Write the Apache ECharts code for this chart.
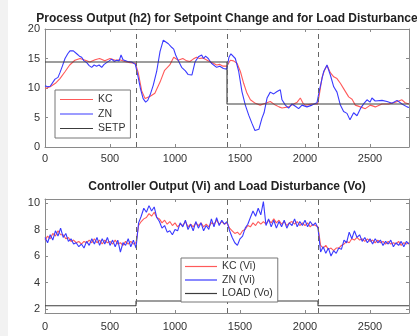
<!DOCTYPE html>
<html>
<head>
<meta charset="utf-8">
<script src="https://cdn.jsdelivr.net/npm/echarts@6/dist/echarts.min.js"></script>
<style>html,body{margin:0;padding:0;background:#fff}#c{width:417px;height:336px}</style>
</head>
<body>
<div id="c"></div>
<script>
// ---------- DATA ----------
const topTitle = 'Process Output (h2) for Setpoint Change and for Load Disturbance';
const bottomTitle = 'Controller Output (Vi) and Load Disturbance (Vo)';
const xTickValues = [0, 500, 1000, 1500, 2000, 2500];
const topYTicks = [0, 5, 10, 15, 20];
const bottomYTicks = [2, 4, 6, 8, 10];
const stepTimes = [700, 1400, 2100];

// Process output h2 (top), [time, value]
const kcH2 = [[0,9.9],[40,10.2],[80,10.8],[115,11.6],[155,12.8],[190,13.9],[230,14.7],[270,15.0],[310,14.7],[345,14.4],[385,14.8],[420,15.0],[460,14.6],[500,15.0],[540,14.7],[575,14.8],[615,14.5],[655,14.3],[695,14.2],[718,12.5],[744,9.5],[770,8.2],[785,7.9],[810,8.6],[845,9.1],[885,11.0],[920,13.0],[960,13.9],[990,15.2],[1025,14.7],[1060,15.0],[1090,14.6],[1115,14.5],[1140,14.9],[1165,15.2],[1190,15.0],[1215,15.1],[1240,14.8],[1265,14.5],[1295,14.2],[1320,13.9],[1345,14.0],[1370,13.7],[1398,13.7],[1426,14.7],[1450,14.6],[1477,14.2],[1503,12.8],[1528,10.8],[1554,9.1],[1580,8.0],[1618,7.4],[1655,7.1],[1695,7.4],[1733,7.7],[1772,7.1],[1800,6.8],[1823,6.6],[1874,6.8],[1913,7.3],[1940,7.6],[1964,8.3],[1985,7.4],[2003,7.1],[2054,7.3],[2098,7.3],[2115,9.5],[2131,11.8],[2150,13.0],[2170,13.8],[2195,12.6],[2221,11.9],[2246,11.6],[2272,10.8],[2297,9.9],[2336,8.5],[2362,8.1],[2387,7.1],[2426,6.8],[2464,6.5],[2503,7.1],[2541,6.8],[2592,7.3],[2644,7.3],[2695,7.6],[2746,8.0],[2770,7.5],[2800,7.3]];
const znH2 = [[0,10.4],[20,10.2],[40,10.3],[77,11.5],[100,11.8],[115,12.6],[135,13.8],[154,15.0],[175,15.8],[192,16.3],[218,16.3],[244,15.8],[265,15.4],[282,15.2],[300,14.6],[321,14.3],[340,13.8],[359,13.5],[378,13.9],[397,13.7],[416,13.9],[436,13.5],[455,14.0],[474,14.3],[494,14.6],[513,14.9],[532,14.5],[551,14.7],[570,14.6],[585,15.6],[600,14.8],[615,14.9],[635,14.5],[667,14.4],[695,14.0],[715,12.0],[735,9.8],[755,8.2],[774,7.6],[790,7.9],[808,8.8],[833,10.5],[859,12.8],[885,16.2],[910,18.1],[925,18.3],[949,17.5],[974,16.9],[990,16.6],[1005,15.6],[1026,14.6],[1051,13.5],[1065,13.3],[1080,12.9],[1100,12.3],[1115,12.5],[1130,12.2],[1154,14.4],[1180,15.3],[1205,15.6],[1220,15.0],[1235,15.4],[1256,15.0],[1280,14.2],[1295,13.9],[1320,13.5],[1345,13.7],[1372,13.3],[1398,13.2],[1415,15.2],[1430,15.8],[1445,15.5],[1464,15.0],[1490,12.8],[1515,9.4],[1541,7.1],[1567,5.4],[1592,4.0],[1615,2.8],[1630,2.6],[1645,3.0],[1669,4.9],[1685,5.8],[1708,8.3],[1733,9.3],[1759,9.0],[1785,9.4],[1810,9.7],[1823,8.0],[1849,7.1],[1874,6.6],[1900,7.3],[1926,6.9],[1951,6.5],[1977,7.1],[2015,6.8],[2054,7.1],[2092,7.5],[2110,9.5],[2131,11.6],[2144,12.8],[2169,13.9],[2195,12.2],[2221,10.2],[2246,9.3],[2272,7.1],[2297,6.0],[2323,5.7],[2346,4.6],[2374,5.8],[2400,5.3],[2426,6.5],[2451,7.3],[2477,8.0],[2500,7.6],[2515,8.3],[2540,7.8],[2554,8.1],[2592,7.9],[2631,7.7],[2669,7.4],[2708,7.9],[2746,7.3],[2785,6.8],[2800,6.7]];
const setpTime = [0, 1400, 1400, 2800];
const setpValue = [14.4, 14.4, 7.3, 7.3];

// Controller output Vi (bottom), sampled every 20 time units
const ctrlTime = [0,20,40,60,80,100,120,140,160,180,200,220,240,260,280,300,320,340,360,380,400,420,440,460,480,500,520,540,560,580,600,620,640,660,680,700,720,740,760,780,800,820,840,860,880,900,920,940,960,980,1000,1020,1040,1060,1080,1100,1120,1140,1160,1180,1200,1220,1240,1260,1280,1300,1320,1340,1360,1380,1400,1420,1440,1460,1480,1500,1520,1540,1560,1580,1600,1620,1640,1660,1680,1700,1720,1740,1760,1780,1800,1820,1840,1860,1880,1900,1920,1940,1960,1980,2000,2020,2040,2060,2080,2100,2120,2140,2160,2180,2200,2220,2240,2260,2280,2300,2320,2340,2360,2380,2400,2420,2440,2460,2480,2500,2520,2540,2560,2580,2600,2620,2640,2660,2680,2700,2720,2740,2760,2780,2800];
const kcVi = [7.2,7.5,7.3,7.7,7.5,7.9,7.6,7.6,7.3,7.4,7.1,7.2,7.0,7.1,6.9,7.1,7.0,7.2,7.0,7.3,7.0,7.2,6.9,7.2,7.0,7.1,6.9,7.2,6.9,7.0,6.8,7.1,6.9,7.1,6.9,7.0,8.3,8.6,8.8,8.9,9.2,9.0,9.3,8.9,8.8,8.5,8.7,8.4,8.6,8.3,8.5,8.2,8.4,8.3,8.6,8.2,8.4,8.2,8.5,8.3,8.5,8.2,8.4,8.2,8.5,8.4,8.7,8.4,8.6,8.4,8.5,8.1,7.9,7.7,7.8,7.6,7.9,8.0,8.3,8.2,8.5,8.3,8.6,8.4,8.6,8.4,8.7,8.5,8.8,8.5,8.7,8.4,8.6,8.3,8.5,8.6,8.4,8.6,8.3,8.5,8.3,8.5,8.2,8.4,8.3,8.2,6.8,6.6,6.8,6.5,6.6,6.4,6.6,6.6,6.8,6.9,7.1,7.0,7.3,7.2,7.4,7.2,7.3,7.1,7.3,7.1,7.2,7.0,7.2,7.0,7.1,6.9,7.1,6.9,7.0,6.9,7.1,6.8,7.0,6.9,7.0];
const znVi = [7.4,7.0,7.6,7.2,7.9,7.5,8.1,7.4,7.7,7.1,7.3,6.9,7.0,6.7,6.9,6.6,7.1,6.8,7.3,6.9,7.4,6.8,7.3,6.9,7.4,6.8,7.2,6.7,7.2,6.3,7.0,6.8,7.3,6.7,7.2,6.6,8.5,9.0,9.6,9.3,9.8,9.4,9.7,8.9,8.6,8.1,8.3,7.8,7.9,7.6,8.0,7.9,8.5,8.2,8.7,8.0,8.4,7.9,8.6,8.1,8.5,7.9,8.3,8.0,8.8,8.2,8.9,8.3,8.7,8.4,8.6,7.9,7.4,7.0,6.8,7.3,7.5,8.1,8.4,8.9,9.4,9.0,9.6,9.1,10.1,8.3,8.8,8.2,8.7,8.1,8.6,8.2,8.7,8.1,8.5,8.3,8.8,8.2,8.6,8.3,8.7,8.2,8.6,8.3,8.5,8.1,6.3,6.7,6.2,6.6,6.0,6.4,6.2,6.6,6.5,7.2,7.0,7.8,7.3,7.9,7.4,7.6,7.1,7.4,7.0,7.3,6.9,7.3,7.0,7.2,6.8,7.1,6.9,7.2,6.7,7.0,6.8,7.1,6.7,7.1,6.9];
const loadTime = [0, 700, 700, 2100, 2100, 2800];
const loadValue = [2.25, 2.25, 2.6, 2.6, 2.25, 2.25];

// ---------- CHART ----------
const zip = (a, b) => a.map((v, i) => [v, b[i]]);
const FONT = 'Liberation Sans, Arial, Helvetica, sans-serif';
const AX = '#8a8a8a';
const RED = '#ff5a5a', BLUE = '#3a3aff', DARK = '#3c3c3c';
const plain = v => String(v);

function xAx(grid, pos, labels, margin) {
  return {
    type: 'value', gridIndex: grid, position: pos, min: 0, max: 2800,
    axisLine: { show: true, onZero: false, lineStyle: { color: AX, width: 1 } },
    axisTick: { show: true, inside: true, length: 3, customValues: xTickValues, lineStyle: { color: AX } },
    axisLabel: { show: labels, customValues: xTickValues, formatter: plain, color: '#333', fontSize: 11, fontFamily: FONT, margin: margin },
    splitLine: { show: false }
  };
}
function yAx(grid, pos, labels, min, max, ticks) {
  return {
    type: 'value', gridIndex: grid, position: pos, min: min, max: max,
    axisLine: { show: true, onZero: false, lineStyle: { color: AX, width: 1 } },
    axisTick: { show: true, inside: true, length: 3, customValues: ticks, lineStyle: { color: AX } },
    axisLabel: { show: labels, customValues: ticks, formatter: plain, color: '#333', fontSize: 11, fontFamily: FONT, margin: 5 },
    splitLine: { show: false }
  };
}
const vlines = {
  symbol: 'none', silent: true, label: { show: false },
  lineStyle: { type: [5, 4], color: '#666', width: 1 },
  data: stepTimes.map(t => ({ xAxis: t }))
};
function line(name, data, color, xi, yi, extra) {
  return Object.assign({
    name: name, type: 'line', xAxisIndex: xi, yAxisIndex: yi, data: data,
    symbol: 'none', showSymbol: false, animation: false,
    lineStyle: { color: color, width: 1.1 }, itemStyle: { color: color }
  }, extra || {});
}

const chart = echarts.init(document.getElementById('c'), null, { renderer: 'canvas' });
chart.setOption({
  animation: false,
  backgroundColor: '#ffffff',
  textStyle: { fontFamily: FONT },
  graphic: [{ type: 'rect', shape: { x: 0, y: 0, width: 8, height: 336 }, style: { fill: '#f2f2f2' }, z: -10, silent: true }],
  title: [
    { text: topTitle, left: 227, top: 13, textAlign: 'center', padding: 0,
      textStyle: { fontSize: 12, fontWeight: 'bold', color: '#222', fontFamily: FONT } },
    { text: bottomTitle, left: 227, top: 181, textAlign: 'center', padding: 0,
      textStyle: { fontSize: 12, fontWeight: 'bold', color: '#222', fontFamily: FONT } }
  ],
  legend: [
    { data: ['KC', 'ZN', 'SETP'], orient: 'vertical', left: 55, top: 90,
      padding: [4, 5, 4, 5], icon: 'rect', itemWidth: 33, itemHeight: 1.2, itemGap: 3.5,
      backgroundColor: '#fff', borderColor: '#777', borderWidth: 1, borderRadius: 0,
      textStyle: { fontSize: 10.5, color: '#333', fontFamily: FONT }, selectedMode: false },
    { data: ['KC (Vi)', 'ZN (Vi)', 'LOAD (Vo)'], orient: 'vertical', left: 181, top: 258,
      padding: [3, 5, 3, 4], icon: 'rect', itemWidth: 32, itemHeight: 1.2, itemGap: 2.5,
      backgroundColor: '#fff', borderColor: '#777', borderWidth: 1, borderRadius: 0,
      textStyle: { fontSize: 10.5, color: '#333', fontFamily: FONT }, selectedMode: false, z: 10 }
  ],
  grid: [
    { left: 45, top: 29, width: 364, height: 118 },
    { left: 45, top: 199, width: 364, height: 114 }
  ],
  xAxis: [ xAx(0, 'bottom', true, 6), xAx(0, 'top', false, 6), xAx(1, 'bottom', true, 8), xAx(1, 'top', false, 8) ],
  yAxis: [ yAx(0, 'left', true, 0, 20, topYTicks), yAx(0, 'right', false, 0, 20, topYTicks),
           yAx(1, 'left', true, 1.7, 10.3, bottomYTicks), yAx(1, 'right', false, 1.7, 10.3, bottomYTicks) ],
  series: [
    line('KC', kcH2, RED, 0, 0, { markLine: vlines }),
    line('ZN', znH2, BLUE, 0, 0),
    line('SETP', zip(setpTime, setpValue), DARK, 0, 0),
    line('KC (Vi)', zip(ctrlTime, kcVi), RED, 2, 2, { markLine: vlines }),
    line('ZN (Vi)', zip(ctrlTime, znVi), BLUE, 2, 2),
    line('LOAD (Vo)', zip(loadTime, loadValue), DARK, 2, 2)
  ]
});
</script>
</body>
</html>
